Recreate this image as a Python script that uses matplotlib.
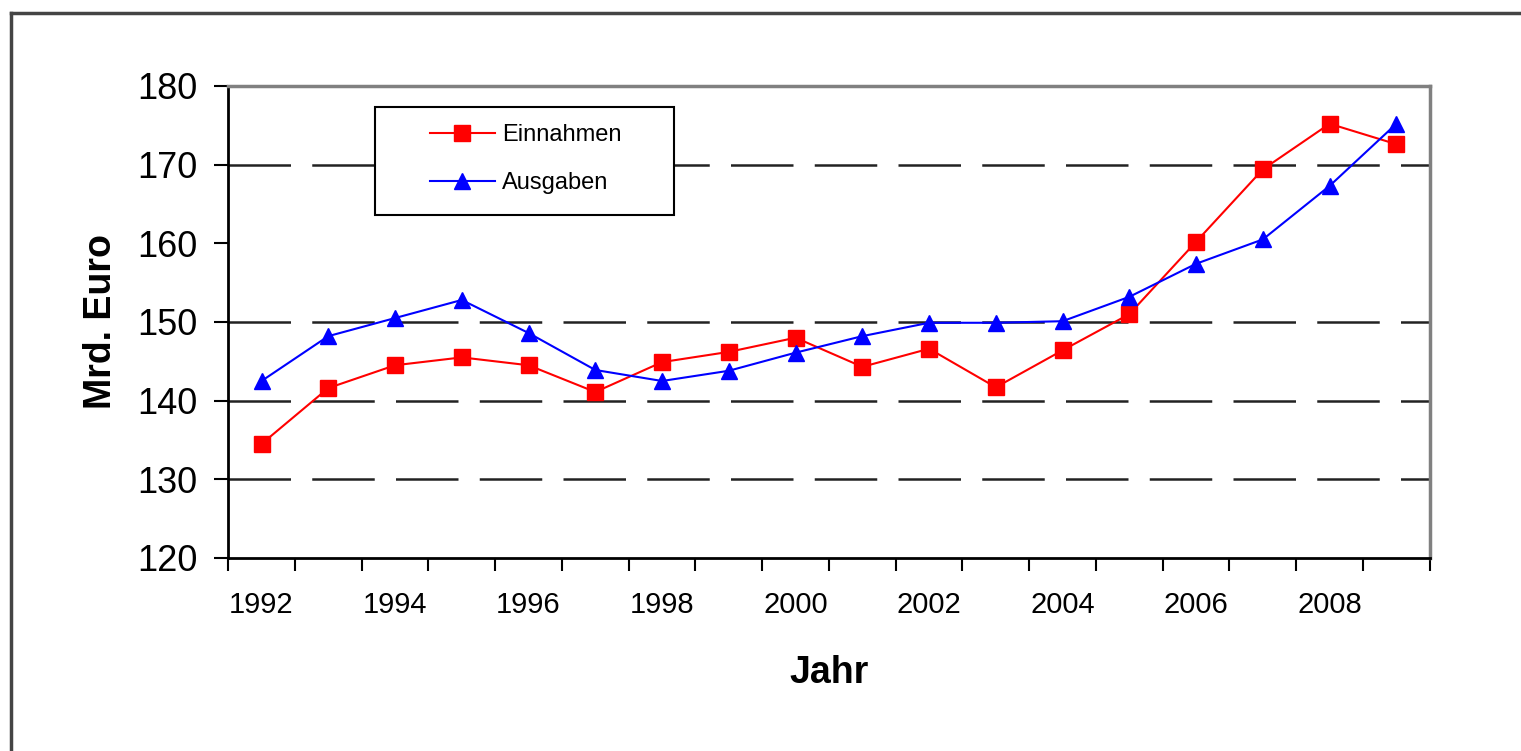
import matplotlib
matplotlib.use("Agg")
import matplotlib.pyplot as plt
from matplotlib.lines import Line2D
from matplotlib.patches import Rectangle
from matplotlib.ticker import FixedLocator, NullFormatter, FixedFormatter

plt.rcParams['font.family'] = ['Liberation Sans', 'DejaVu Sans']

# ---- data (Mrd. Euro) ----
YEARS = [1992, 1993, 1994, 1995, 1996, 1997, 1998, 1999, 2000,
         2001, 2002, 2003, 2004, 2005, 2006, 2007, 2008, 2009]
EINNAHMEN = [134.5, 141.6, 144.5, 145.5, 144.5, 141.1, 144.9, 146.2, 148.0,
             144.3, 146.6, 141.7, 146.4, 151.0, 160.2, 169.4, 175.2, 172.6]
AUSGABEN = [142.5, 148.2, 150.5, 152.8, 148.6, 143.9, 142.5, 143.8, 146.1,
            148.2, 149.9, 149.9, 150.1, 153.2, 157.4, 160.5, 167.3, 175.2]
Y_TICKS = [120, 130, 140, 150, 160, 170, 180]
GRID_VALUES = [130, 140, 150, 170]

fig = plt.figure(figsize=(15.21, 7.51), dpi=100)
ax = fig.add_axes([0.15, 0.257, 0.79, 0.6285])

pos = list(range(len(YEARS)))
ax.plot(pos, EINNAHMEN, color='#ff0000', lw=1.5, marker='s', ms=11,
        mec='#ff0000', label='Einnahmen', zorder=4)
ax.plot(pos, AUSGABEN, color='#0000ff', lw=1.5, marker='^', ms=12,
        mec='#0000ff', label='Ausgaben', zorder=4)

# dashed horizontal gridlines (Excel style)
for g in GRID_VALUES:
    ax.axhline(g, color='#222222', lw=1.8, dashes=(25, 8.5), zorder=1)

ax.set_xlim(-0.5, len(YEARS) - 0.5)
ax.set_ylim(Y_TICKS[0], Y_TICKS[-1])
ax.set_yticks(Y_TICKS)
ax.tick_params(axis='y', direction='out', length=10, width=1.5,
               labelsize=26, pad=12, color='black')

# category axis: ticks between categories, labels on every other year
ax.xaxis.set_major_locator(FixedLocator([p - 0.5 for p in pos] + [pos[-1] + 0.5]))
ax.xaxis.set_major_formatter(NullFormatter())
lab_pos = pos[::2][:9]
ax.xaxis.set_minor_locator(FixedLocator(lab_pos))
ax.xaxis.set_minor_formatter(FixedFormatter([str(YEARS[p]) for p in lab_pos]))
ax.tick_params(axis='x', which='major', direction='out', length=9, width=1.5)
ax.tick_params(axis='x', which='minor', length=0, labelsize=21, pad=24)

for s in ['left', 'bottom']:
    ax.spines[s].set_color('black')
    ax.spines[s].set_linewidth(2)
for s in ['top', 'right']:
    ax.spines[s].set_color('#808080')
    ax.spines[s].set_linewidth(2.5)

ax.set_xlabel('Jahr', fontsize=27, fontweight='bold')
ax.xaxis.set_label_coords(0.5, -0.205)
ax.set_ylabel('Mrd. Euro', fontsize=27, fontweight='bold')
ax.yaxis.set_label_coords(-0.091, 0.5)

# legend with a boxed frame
ax.add_patch(Rectangle((0.122, 0.727), 0.249, 0.228, transform=ax.transAxes,
                       facecolor='white', edgecolor='black', lw=1.5, zorder=5))
leg = ax.legend(loc='center left', bbox_to_anchor=(0.168, 0.845), frameon=False,
                fontsize=17, borderpad=0, borderaxespad=0, handlelength=2.75,
                handletextpad=0.3, labelspacing=1.1, numpoints=1)
leg.set_zorder(6)

# outer chart frame (cropped)
fig.add_artist(Line2D([0.0072, 0.0072], [0.0, 0.9827], transform=fig.transFigure,
                      color='#444444', lw=2.5))
fig.add_artist(Line2D([0.0072, 1.0], [0.9827, 0.9827], transform=fig.transFigure,
                      color='#444444', lw=2.5))

fig.savefig('out.png', dpi=100, facecolor='white')
